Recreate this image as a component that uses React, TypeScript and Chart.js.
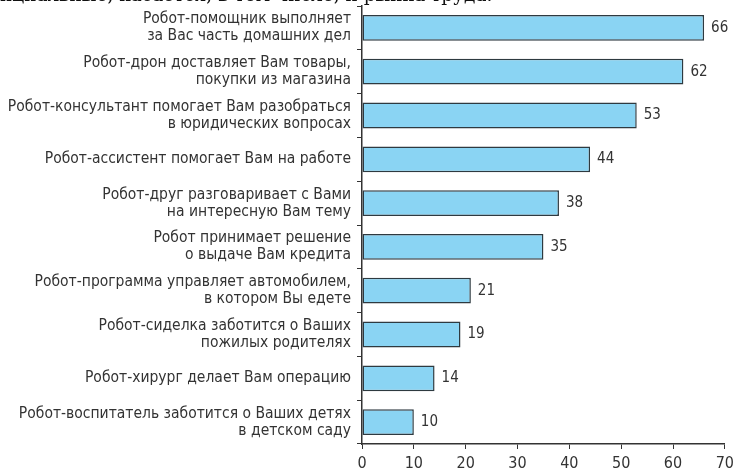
import React, { useEffect, useRef } from "react";
import { Chart, registerables } from "chart.js";

Chart.register(...registerables);

const categories: string[][] = [
  ["Робот-помощник выполняет", "за Вас часть домашних дел"],
  ["Робот-дрон доставляет Вам товары,", "покупки из магазина"],
  ["Робот-консультант помогает Вам разобраться", "в юридических вопросах"],
  ["Робот-ассистент помогает Вам на работе"],
  ["Робот-друг разговаривает с Вами", "на интересную Вам тему"],
  ["Робот принимает решение", "о выдаче Вам кредита"],
  ["Робот-программа управляет автомобилем,", "в котором Вы едете"],
  ["Робот-сиделка заботится о Ваших", "пожилых родителях"],
  ["Робот-хирург делает Вам операцию"],
  ["Робот-воспитатель заботится о Ваших детях", "в детском саду"],
];
const values: number[] = [66, 62, 53, 44, 38, 35, 21, 19, 14, 10];
const xTicks: number[] = [0, 10, 20, 30, 40, 50, 60, 70];
const headerText = "нциальные, касается, в том числе, и рынка труда.";

const FONT = "'DejaVu Sans Condensed', 'Liberation Sans Narrow', Roboto, sans-serif";
const INK = "#333333";

const valueLabels = {
  id: "valueLabels",
  afterDatasetsDraw(chart: any) {
    const ctx = chart.ctx;
    const meta = chart.getDatasetMeta(0);
    ctx.save();
    ctx.fillStyle = INK;
    ctx.font = `15px ${FONT}`;
    ctx.textAlign = "left";
    ctx.textBaseline = "middle";
    meta.data.forEach((el: any, i: number) => {
      ctx.fillText(String(values[i]), el.x + 7, el.y);
    });
    ctx.restore();
  },
};

export default function App() {
  const ref = useRef<HTMLCanvasElement>(null);
  useEffect(() => {
    if (!ref.current) return;
    const chart = new Chart(ref.current, {
      type: "bar",
      data: {
        labels: categories,
        datasets: [
          {
            data: values,
            backgroundColor: "#8ad4f3",
            borderColor: "#2e3a40",
            borderWidth: 1.5,
            borderSkipped: false,
            categoryPercentage: 1,
            barPercentage: 0.59,
          },
        ],
      },
      options: {
        indexAxis: "y",
        responsive: false,
        animation: false,
        layout: { padding: { top: 6, right: 11, left: 0, bottom: 0 } },
        plugins: { legend: { display: false }, tooltip: { enabled: false } },
        scales: {
          y: {
            afterFit(scale: any) {
              scale.width = 362;
              scale.paddingTop = 0;
              scale.paddingBottom = 0;
            },
            grid: {
              drawOnChartArea: false,
              offset: true,
              tickLength: 5,
              color: INK,
              lineWidth: 1,
            },
            border: { display: true, color: INK, width: 1.5 },
            ticks: {
              color: INK,
              font: { family: FONT, size: 15.5, lineHeight: 1.1 },
              padding: 6,
            },
          },
          x: {
            min: 0,
            max: 70,
            afterFit(scale: any) {
              scale.height = 29;
            },
            afterBuildTicks(scale: any) {
              scale.ticks = xTicks.map((v) => ({ value: v }));
            },
            grid: {
              drawOnChartArea: false,
              tickLength: 5,
              color: INK,
              lineWidth: 1,
            },
            border: { display: true, color: INK, width: 1.5 },
            ticks: {
              color: INK,
              font: { family: FONT, size: 16 },
              padding: 5,
            },
          },
        },
      },
      plugins: [valueLabels],
    });
    return () => chart.destroy();
  }, []);
  return (
    <div
      style={{
        position: "fixed",
        left: 0,
        top: 0,
        width: 739,
        height: 473,
        overflow: "hidden",
        background: "#fff",
      }}
    >
      <canvas ref={ref} width={739} height={473} style={{ position: "absolute", left: 0, top: 0 }} />
      <div
        style={{
          position: "absolute",
          left: 0,
          top: -15,
          fontFamily: "'DejaVu Serif', 'Liberation Serif', serif",
          fontSize: 18.5,
          color: "#111",
          whiteSpace: "nowrap",
          lineHeight: "20px",
        }}
      >
        {headerText}
      </div>
    </div>
  );
}
